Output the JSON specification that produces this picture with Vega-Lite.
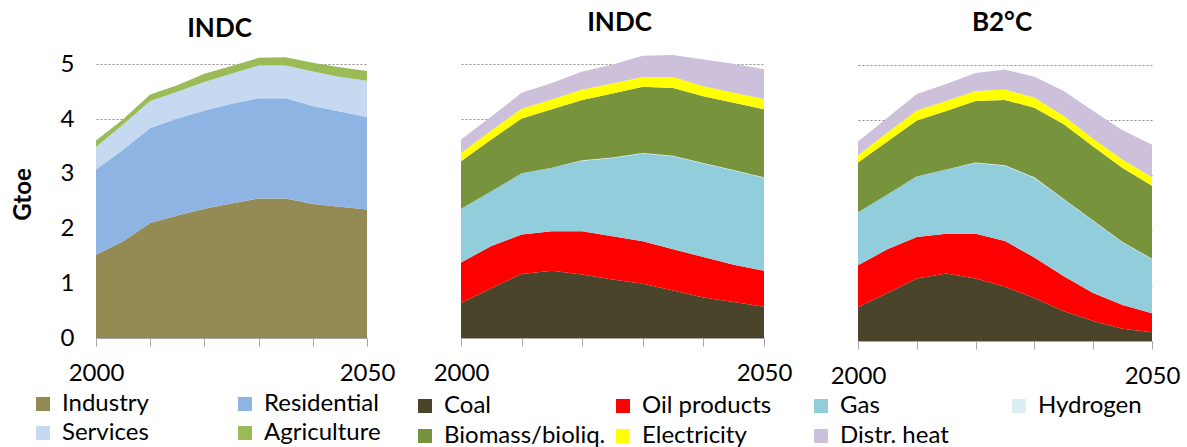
{
  "$schema": "https://vega.github.io/schema/vega-lite/v6.json",
  "background": "white",
  "padding": {"left": 11, "top": 10, "right": 0, "bottom": 0},
  "bounds": "flush",
  "spacing": 94,
  "config": {
    "font": "Lato",
    "view": {"stroke": null},
    "title": {"fontSize": 26, "fontWeight": "bold", "color": "black", "anchor": "middle", "frame": "group", "offset": 12},
    "axis": {"labelColor": "black", "labelFontSize": 24, "titleColor": "black"},
    "legend": {"padding": 0, "labelFontSize": 24, "labelColor": "black", "labelLimit": 300, "symbolType": "square", "symbolSize": 196, "symbolStrokeWidth": 0, "labelOffset": 7, "gridAlign": "all", "direction": "horizontal"}
  },
  "datasets": {
    "sectors": [
      {"year": 2000, "sector": "Industry", "gtoe": 1.52}, {"year": 2000, "sector": "Residential", "gtoe": 1.56}, {"year": 2000, "sector": "Services", "gtoe": 0.41}, {"year": 2000, "sector": "Agriculture", "gtoe": 0.12},
      {"year": 2005, "sector": "Industry", "gtoe": 1.77}, {"year": 2005, "sector": "Residential", "gtoe": 1.67}, {"year": 2005, "sector": "Services", "gtoe": 0.46}, {"year": 2005, "sector": "Agriculture", "gtoe": 0.10},
      {"year": 2010, "sector": "Industry", "gtoe": 2.10}, {"year": 2010, "sector": "Residential", "gtoe": 1.74}, {"year": 2010, "sector": "Services", "gtoe": 0.49}, {"year": 2010, "sector": "Agriculture", "gtoe": 0.12},
      {"year": 2015, "sector": "Industry", "gtoe": 2.24}, {"year": 2015, "sector": "Residential", "gtoe": 1.77}, {"year": 2015, "sector": "Services", "gtoe": 0.49}, {"year": 2015, "sector": "Agriculture", "gtoe": 0.12},
      {"year": 2020, "sector": "Industry", "gtoe": 2.36}, {"year": 2020, "sector": "Residential", "gtoe": 1.80}, {"year": 2020, "sector": "Services", "gtoe": 0.52}, {"year": 2020, "sector": "Agriculture", "gtoe": 0.15},
      {"year": 2025, "sector": "Industry", "gtoe": 2.46}, {"year": 2025, "sector": "Residential", "gtoe": 1.82}, {"year": 2025, "sector": "Services", "gtoe": 0.55}, {"year": 2025, "sector": "Agriculture", "gtoe": 0.14},
      {"year": 2030, "sector": "Industry", "gtoe": 2.55}, {"year": 2030, "sector": "Residential", "gtoe": 1.83}, {"year": 2030, "sector": "Services", "gtoe": 0.60}, {"year": 2030, "sector": "Agriculture", "gtoe": 0.14},
      {"year": 2035, "sector": "Industry", "gtoe": 2.55}, {"year": 2035, "sector": "Residential", "gtoe": 1.83}, {"year": 2035, "sector": "Services", "gtoe": 0.60}, {"year": 2035, "sector": "Agriculture", "gtoe": 0.15},
      {"year": 2040, "sector": "Industry", "gtoe": 2.45}, {"year": 2040, "sector": "Residential", "gtoe": 1.79}, {"year": 2040, "sector": "Services", "gtoe": 0.63}, {"year": 2040, "sector": "Agriculture", "gtoe": 0.16},
      {"year": 2045, "sector": "Industry", "gtoe": 2.40}, {"year": 2045, "sector": "Residential", "gtoe": 1.74}, {"year": 2045, "sector": "Services", "gtoe": 0.63}, {"year": 2045, "sector": "Agriculture", "gtoe": 0.18},
      {"year": 2050, "sector": "Industry", "gtoe": 2.35}, {"year": 2050, "sector": "Residential", "gtoe": 1.69}, {"year": 2050, "sector": "Services", "gtoe": 0.66}, {"year": 2050, "sector": "Agriculture", "gtoe": 0.18}
    ],
    "carriersIndc": [
      {"year": 2000, "carrier": "Coal", "gtoe": 0.64}, {"year": 2000, "carrier": "Oil products", "gtoe": 0.74}, {"year": 2000, "carrier": "Gas", "gtoe": 0.98}, {"year": 2000, "carrier": "Hydrogen", "gtoe": 0.0}, {"year": 2000, "carrier": "Biomass/bioliq.", "gtoe": 0.87}, {"year": 2000, "carrier": "Electricity", "gtoe": 0.15}, {"year": 2000, "carrier": "Distr. heat", "gtoe": 0.25},
      {"year": 2005, "carrier": "Coal", "gtoe": 0.91}, {"year": 2005, "carrier": "Oil products", "gtoe": 0.77}, {"year": 2005, "carrier": "Gas", "gtoe": 1.00}, {"year": 2005, "carrier": "Hydrogen", "gtoe": 0.0}, {"year": 2005, "carrier": "Biomass/bioliq.", "gtoe": 0.95}, {"year": 2005, "carrier": "Electricity", "gtoe": 0.16}, {"year": 2005, "carrier": "Distr. heat", "gtoe": 0.26},
      {"year": 2010, "carrier": "Coal", "gtoe": 1.17}, {"year": 2010, "carrier": "Oil products", "gtoe": 0.72}, {"year": 2010, "carrier": "Gas", "gtoe": 1.12}, {"year": 2010, "carrier": "Hydrogen", "gtoe": 0.0}, {"year": 2010, "carrier": "Biomass/bioliq.", "gtoe": 1.00}, {"year": 2010, "carrier": "Electricity", "gtoe": 0.18}, {"year": 2010, "carrier": "Distr. heat", "gtoe": 0.29},
      {"year": 2015, "carrier": "Coal", "gtoe": 1.23}, {"year": 2015, "carrier": "Oil products", "gtoe": 0.72}, {"year": 2015, "carrier": "Gas", "gtoe": 1.16}, {"year": 2015, "carrier": "Hydrogen", "gtoe": 0.0}, {"year": 2015, "carrier": "Biomass/bioliq.", "gtoe": 1.07}, {"year": 2015, "carrier": "Electricity", "gtoe": 0.18}, {"year": 2015, "carrier": "Distr. heat", "gtoe": 0.30},
      {"year": 2020, "carrier": "Coal", "gtoe": 1.16}, {"year": 2020, "carrier": "Oil products", "gtoe": 0.79}, {"year": 2020, "carrier": "Gas", "gtoe": 1.29}, {"year": 2020, "carrier": "Hydrogen", "gtoe": 0.01}, {"year": 2020, "carrier": "Biomass/bioliq.", "gtoe": 1.10}, {"year": 2020, "carrier": "Electricity", "gtoe": 0.19}, {"year": 2020, "carrier": "Distr. heat", "gtoe": 0.33},
      {"year": 2025, "carrier": "Coal", "gtoe": 1.07}, {"year": 2025, "carrier": "Oil products", "gtoe": 0.79}, {"year": 2025, "carrier": "Gas", "gtoe": 1.43}, {"year": 2025, "carrier": "Hydrogen", "gtoe": 0.01}, {"year": 2025, "carrier": "Biomass/bioliq.", "gtoe": 1.17}, {"year": 2025, "carrier": "Electricity", "gtoe": 0.18}, {"year": 2025, "carrier": "Distr. heat", "gtoe": 0.35},
      {"year": 2030, "carrier": "Coal", "gtoe": 0.99}, {"year": 2030, "carrier": "Oil products", "gtoe": 0.78}, {"year": 2030, "carrier": "Gas", "gtoe": 1.60}, {"year": 2030, "carrier": "Hydrogen", "gtoe": 0.01}, {"year": 2030, "carrier": "Biomass/bioliq.", "gtoe": 1.21}, {"year": 2030, "carrier": "Electricity", "gtoe": 0.18}, {"year": 2030, "carrier": "Distr. heat", "gtoe": 0.39},
      {"year": 2035, "carrier": "Coal", "gtoe": 0.87}, {"year": 2035, "carrier": "Oil products", "gtoe": 0.75}, {"year": 2035, "carrier": "Gas", "gtoe": 1.70}, {"year": 2035, "carrier": "Hydrogen", "gtoe": 0.01}, {"year": 2035, "carrier": "Biomass/bioliq.", "gtoe": 1.24}, {"year": 2035, "carrier": "Electricity", "gtoe": 0.20}, {"year": 2035, "carrier": "Distr. heat", "gtoe": 0.40},
      {"year": 2040, "carrier": "Coal", "gtoe": 0.74}, {"year": 2040, "carrier": "Oil products", "gtoe": 0.74}, {"year": 2040, "carrier": "Gas", "gtoe": 1.71}, {"year": 2040, "carrier": "Hydrogen", "gtoe": 0.01}, {"year": 2040, "carrier": "Biomass/bioliq.", "gtoe": 1.22}, {"year": 2040, "carrier": "Electricity", "gtoe": 0.18}, {"year": 2040, "carrier": "Distr. heat", "gtoe": 0.49},
      {"year": 2045, "carrier": "Coal", "gtoe": 0.66}, {"year": 2045, "carrier": "Oil products", "gtoe": 0.68}, {"year": 2045, "carrier": "Gas", "gtoe": 1.72}, {"year": 2045, "carrier": "Hydrogen", "gtoe": 0.01}, {"year": 2045, "carrier": "Biomass/bioliq.", "gtoe": 1.23}, {"year": 2045, "carrier": "Electricity", "gtoe": 0.18}, {"year": 2045, "carrier": "Distr. heat", "gtoe": 0.53},
      {"year": 2050, "carrier": "Coal", "gtoe": 0.57}, {"year": 2050, "carrier": "Oil products", "gtoe": 0.66}, {"year": 2050, "carrier": "Gas", "gtoe": 1.70}, {"year": 2050, "carrier": "Hydrogen", "gtoe": 0.01}, {"year": 2050, "carrier": "Biomass/bioliq.", "gtoe": 1.24}, {"year": 2050, "carrier": "Electricity", "gtoe": 0.19}, {"year": 2050, "carrier": "Distr. heat", "gtoe": 0.54}
    ],
    "carriersB2C": [
      {"year": 2000, "carrier": "Coal", "gtoe": 0.61}, {"year": 2000, "carrier": "Oil products", "gtoe": 0.76}, {"year": 2000, "carrier": "Gas", "gtoe": 0.96}, {"year": 2000, "carrier": "Hydrogen", "gtoe": 0.0}, {"year": 2000, "carrier": "Biomass/bioliq.", "gtoe": 0.90}, {"year": 2000, "carrier": "Electricity", "gtoe": 0.13}, {"year": 2000, "carrier": "Distr. heat", "gtoe": 0.25},
      {"year": 2005, "carrier": "Coal", "gtoe": 0.87}, {"year": 2005, "carrier": "Oil products", "gtoe": 0.79}, {"year": 2005, "carrier": "Gas", "gtoe": 0.99}, {"year": 2005, "carrier": "Hydrogen", "gtoe": 0.0}, {"year": 2005, "carrier": "Biomass/bioliq.", "gtoe": 0.96}, {"year": 2005, "carrier": "Electricity", "gtoe": 0.16}, {"year": 2005, "carrier": "Distr. heat", "gtoe": 0.27},
      {"year": 2010, "carrier": "Coal", "gtoe": 1.13}, {"year": 2010, "carrier": "Oil products", "gtoe": 0.75}, {"year": 2010, "carrier": "Gas", "gtoe": 1.10}, {"year": 2010, "carrier": "Hydrogen", "gtoe": 0.0}, {"year": 2010, "carrier": "Biomass/bioliq.", "gtoe": 1.01}, {"year": 2010, "carrier": "Electricity", "gtoe": 0.18}, {"year": 2010, "carrier": "Distr. heat", "gtoe": 0.30},
      {"year": 2015, "carrier": "Coal", "gtoe": 1.22}, {"year": 2015, "carrier": "Oil products", "gtoe": 0.72}, {"year": 2015, "carrier": "Gas", "gtoe": 1.16}, {"year": 2015, "carrier": "Hydrogen", "gtoe": 0.0}, {"year": 2015, "carrier": "Biomass/bioliq.", "gtoe": 1.06}, {"year": 2015, "carrier": "Electricity", "gtoe": 0.18}, {"year": 2015, "carrier": "Distr. heat", "gtoe": 0.31},
      {"year": 2020, "carrier": "Coal", "gtoe": 1.13}, {"year": 2020, "carrier": "Oil products", "gtoe": 0.81}, {"year": 2020, "carrier": "Gas", "gtoe": 1.28}, {"year": 2020, "carrier": "Hydrogen", "gtoe": 0.01}, {"year": 2020, "carrier": "Biomass/bioliq.", "gtoe": 1.11}, {"year": 2020, "carrier": "Electricity", "gtoe": 0.18}, {"year": 2020, "carrier": "Distr. heat", "gtoe": 0.33},
      {"year": 2025, "carrier": "Coal", "gtoe": 0.98}, {"year": 2025, "carrier": "Oil products", "gtoe": 0.83}, {"year": 2025, "carrier": "Gas", "gtoe": 1.36}, {"year": 2025, "carrier": "Hydrogen", "gtoe": 0.01}, {"year": 2025, "carrier": "Biomass/bioliq.", "gtoe": 1.18}, {"year": 2025, "carrier": "Electricity", "gtoe": 0.19}, {"year": 2025, "carrier": "Distr. heat", "gtoe": 0.36},
      {"year": 2030, "carrier": "Coal", "gtoe": 0.78}, {"year": 2030, "carrier": "Oil products", "gtoe": 0.73}, {"year": 2030, "carrier": "Gas", "gtoe": 1.44}, {"year": 2030, "carrier": "Hydrogen", "gtoe": 0.01}, {"year": 2030, "carrier": "Biomass/bioliq.", "gtoe": 1.26}, {"year": 2030, "carrier": "Electricity", "gtoe": 0.18}, {"year": 2030, "carrier": "Distr. heat", "gtoe": 0.38},
      {"year": 2035, "carrier": "Coal", "gtoe": 0.54}, {"year": 2035, "carrier": "Oil products", "gtoe": 0.63}, {"year": 2035, "carrier": "Gas", "gtoe": 1.39}, {"year": 2035, "carrier": "Hydrogen", "gtoe": 0.01}, {"year": 2035, "carrier": "Biomass/bioliq.", "gtoe": 1.35}, {"year": 2035, "carrier": "Electricity", "gtoe": 0.15}, {"year": 2035, "carrier": "Distr. heat", "gtoe": 0.45},
      {"year": 2040, "carrier": "Coal", "gtoe": 0.36}, {"year": 2040, "carrier": "Oil products", "gtoe": 0.51}, {"year": 2040, "carrier": "Gas", "gtoe": 1.30}, {"year": 2040, "carrier": "Hydrogen", "gtoe": 0.01}, {"year": 2040, "carrier": "Biomass/bioliq.", "gtoe": 1.34}, {"year": 2040, "carrier": "Electricity", "gtoe": 0.14}, {"year": 2040, "carrier": "Distr. heat", "gtoe": 0.50},
      {"year": 2045, "carrier": "Coal", "gtoe": 0.22}, {"year": 2045, "carrier": "Oil products", "gtoe": 0.43}, {"year": 2045, "carrier": "Gas", "gtoe": 1.13}, {"year": 2045, "carrier": "Hydrogen", "gtoe": 0.01}, {"year": 2045, "carrier": "Biomass/bioliq.", "gtoe": 1.34}, {"year": 2045, "carrier": "Electricity", "gtoe": 0.15}, {"year": 2045, "carrier": "Distr. heat", "gtoe": 0.53},
      {"year": 2050, "carrier": "Coal", "gtoe": 0.16}, {"year": 2050, "carrier": "Oil products", "gtoe": 0.34}, {"year": 2050, "carrier": "Gas", "gtoe": 0.98}, {"year": 2050, "carrier": "Hydrogen", "gtoe": 0.01}, {"year": 2050, "carrier": "Biomass/bioliq.", "gtoe": 1.32}, {"year": 2050, "carrier": "Electricity", "gtoe": 0.15}, {"year": 2050, "carrier": "Distr. heat", "gtoe": 0.59}
    ]
  },
  "resolve": {"scale": {"color": "independent", "y": "independent", "x": "independent"}},
  "hconcat": [
    {
      "title": {"text": "INDC", "dx": -12, "offset": 6},
      "width": 271,
      "height": 290,
      "data": {"name": "sectors"},
      "transform": [
        {"calculate": "indexof(['Industry', 'Residential', 'Services', 'Agriculture'], datum.sector)", "as": "layer"}
      ],
      "mark": {"type": "area", "interpolate": "linear"},
      "encoding": {
        "x": {"field": "year", "type": "quantitative", "scale": {"domain": [2000, 2050], "nice": false},
          "axis": {"title": null, "values": [2000, 2010, 2020, 2030, 2040, 2050], "format": "d", "labelExpr": "datum.value == 2000 || datum.value == 2050 ? datum.label : ''", "labelFlush": false, "labelOverlap": false, "grid": false, "tickSize": 8, "tickColor": "#a6a6a6", "domainColor": "#a6a6a6", "labelPadding": 15, "zindex": 1}},
        "y": {"field": "gtoe", "type": "quantitative", "stack": "zero", "scale": {"domain": [0, 5.3], "nice": false},
          "axis": {"title": "Gtoe", "titleFontSize": 24, "titleFontWeight": "bold", "titlePadding": 25, "titleY": 146, "values": [0, 1, 2, 3, 4, 5], "ticks": false, "domain": false, "labelPadding": 22, "grid": true, "gridDash": [2, 2], "gridColor": "#8c8c8c", "gridWidth": 1.2}},
        "order": {"field": "layer", "type": "quantitative", "sort": "ascending"},
        "color": {"field": "sector", "type": "nominal",
          "sort": ["Industry", "Residential", "Services", "Agriculture"],
          "scale": {"domain": ["Industry", "Residential", "Services", "Agriculture"], "range": ["#948a54", "#8db4e2", "#c5d9f1", "#9bbb59"]},
          "legend": {"title": null, "orient": "none", "legendX": -65, "legendY": 344, "columns": 2, "columnPadding": 54, "rowPadding": 5}}
      }
    },
    {
      "title": {"text": "INDC", "dx": 7},
      "width": 303,
      "height": 290,
      "data": {"name": "carriersIndc"},
      "transform": [
        {"calculate": "indexof(['Coal', 'Oil products', 'Gas', 'Hydrogen', 'Biomass/bioliq.', 'Electricity', 'Distr. heat'], datum.carrier)", "as": "layer"}
      ],
      "mark": {"type": "area", "interpolate": "linear"},
      "encoding": {
        "x": {"field": "year", "type": "quantitative", "scale": {"domain": [2000, 2050], "nice": false},
          "axis": {"title": null, "values": [2000, 2010, 2020, 2030, 2040, 2050], "format": "d", "labelExpr": "datum.value == 2000 || datum.value == 2050 ? datum.label : ''", "labelFlush": false, "labelOverlap": false, "grid": false, "tickSize": 8, "tickColor": "#a6a6a6", "domainColor": "#a6a6a6", "labelPadding": 15, "zindex": 1}},
        "y": {"field": "gtoe", "type": "quantitative", "stack": "zero", "scale": {"domain": [0, 5.3], "nice": false},
          "axis": {"title": null, "values": [0, 1, 2, 3, 4, 5], "labels": false, "ticks": false, "domain": false, "grid": true, "gridDash": [2, 2], "gridColor": "#8c8c8c", "gridWidth": 1.2}},
        "order": {"field": "layer", "type": "quantitative", "sort": "ascending"},
        "color": {"field": "carrier", "type": "nominal",
          "sort": ["Coal", "Oil products", "Gas", "Hydrogen", "Biomass/bioliq.", "Electricity", "Distr. heat"],
          "scale": {"domain": ["Coal", "Oil products", "Gas", "Hydrogen", "Biomass/bioliq.", "Electricity", "Distr. heat"], "range": ["#4a452a", "#ff0000", "#92cddc", "#daeef3", "#77933c", "#ffff00", "#ccc0da"]},
          "legend": {"title": null, "orient": "none", "legendX": -48, "legendY": 346, "columns": 4, "columnPadding": 5, "rowPadding": 6}}
      }
    },
    {
      "title": {"text": "B2°C", "dx": -3},
      "width": 294,
      "height": 293,
      "data": {"name": "carriersB2C"},
      "transform": [
        {"calculate": "indexof(['Coal', 'Oil products', 'Gas', 'Hydrogen', 'Biomass/bioliq.', 'Electricity', 'Distr. heat'], datum.carrier)", "as": "layer"}
      ],
      "mark": {"type": "area", "interpolate": "linear"},
      "encoding": {
        "x": {"field": "year", "type": "quantitative", "scale": {"domain": [2000, 2050], "nice": false},
          "axis": {"title": null, "values": [2000, 2010, 2020, 2030, 2040, 2050], "format": "d", "labelExpr": "datum.value == 2000 || datum.value == 2050 ? datum.label : ''", "labelFlush": false, "labelOverlap": false, "grid": false, "tickSize": 8, "tickColor": "#a6a6a6", "domainColor": "#a6a6a6", "labelPadding": 15, "zindex": 1}},
        "y": {"field": "gtoe", "type": "quantitative", "stack": "zero", "scale": {"domain": [0, 5.3], "nice": false},
          "axis": {"title": null, "values": [0, 1, 2, 3, 4, 5], "labels": false, "ticks": false, "domain": false, "grid": true, "gridDash": [2, 2], "gridColor": "#8c8c8c", "gridWidth": 1.2}},
        "order": {"field": "layer", "type": "quantitative", "sort": "ascending"},
        "color": {"field": "carrier", "type": "nominal",
          "sort": ["Coal", "Oil products", "Gas", "Hydrogen", "Biomass/bioliq.", "Electricity", "Distr. heat"],
          "scale": {"domain": ["Coal", "Oil products", "Gas", "Hydrogen", "Biomass/bioliq.", "Electricity", "Distr. heat"], "range": ["#4a452a", "#ff0000", "#92cddc", "#daeef3", "#77933c", "#ffff00", "#ccc0da"]},
          "legend": null}
      }
    }
  ]
}
